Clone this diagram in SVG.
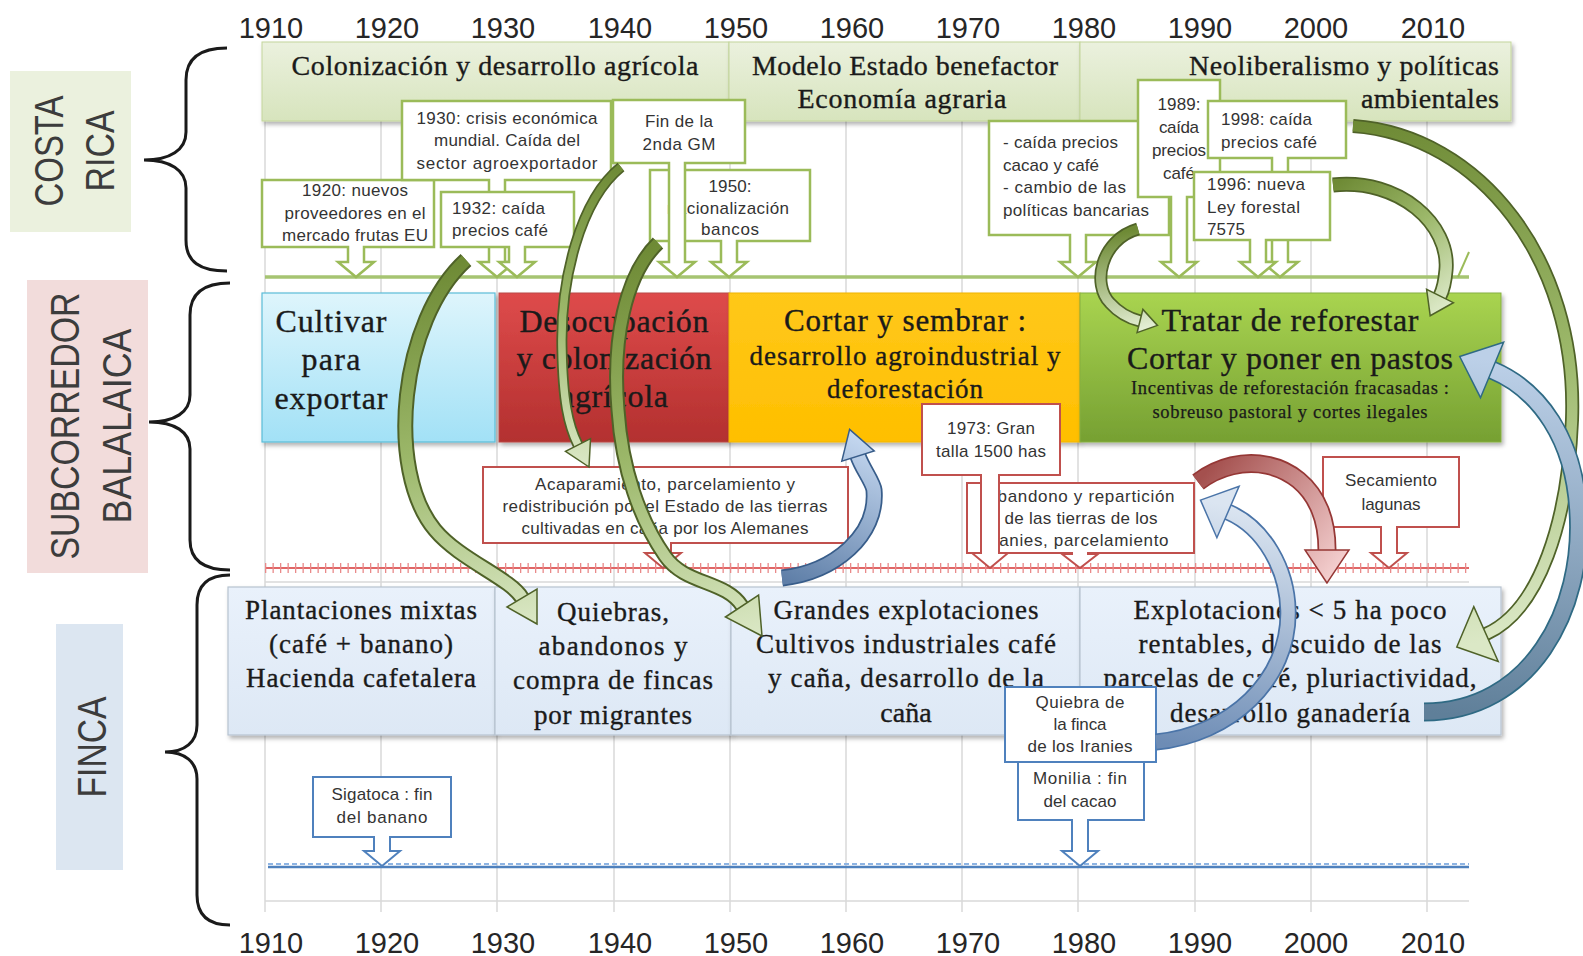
<svg xmlns="http://www.w3.org/2000/svg" width="1583" height="956" viewBox="0 0 1583 956">
<defs>
<style>
.cs{font-family:"Liberation Sans",Arial,sans-serif;font-size:17px;fill:#333}
.sf{font-family:"Liberation Serif","Times New Roman",serif;fill:#1a1a1a;stroke:#1a1a1a;stroke-width:0.35}
.yr{font-family:"Liberation Sans",Arial,sans-serif;font-size:29px;fill:#262626;text-anchor:middle}
.lb{font-family:"Liberation Sans",Arial,sans-serif;font-size:40px;fill:#3c3c3c;text-anchor:middle}
.m{text-anchor:middle}
.e{text-anchor:end}
.cg{fill:#fff;stroke:#9bbb59;stroke-width:2.5}
.cr{fill:#fff;stroke:#c0504d;stroke-width:2}
.cb{fill:#fff;stroke:#4f81bd;stroke-width:2}
.grid{stroke:#d9d9d9;stroke-width:1.5}
.brace{fill:none;stroke:#1a1a1a;stroke-width:3}
.hdr{fill:url(#hdrG);stroke:#c3d69b;stroke-width:1;filter:url(#sh)}
.fin{fill:url(#finG);stroke:#b7c3d0;stroke-width:1.2;filter:url(#sh)}
.band{fill:none;stroke-linecap:butt}
</style>
<filter id="sh" x="-5%" y="-10%" width="115%" height="130%"><feDropShadow dx="2" dy="3" stdDeviation="2" flood-color="#000" flood-opacity="0.3"/></filter>
<linearGradient id="hdrG" x1="0" y1="0" x2="0" y2="1"><stop offset="0" stop-color="#ebf1de"/><stop offset="1" stop-color="#d7e4bd"/></linearGradient>
<linearGradient id="finG" x1="0" y1="0" x2="0" y2="1"><stop offset="0" stop-color="#e9f1fb"/><stop offset="1" stop-color="#dde8f5"/></linearGradient>
<linearGradient id="cyG" x1="0" y1="0" x2="0" y2="1"><stop offset="0" stop-color="#def5fc"/><stop offset="1" stop-color="#a2e1f6"/></linearGradient>
<linearGradient id="rdG" x1="0" y1="0" x2="0" y2="1"><stop offset="0" stop-color="#de4b4b"/><stop offset="1" stop-color="#b3302f"/></linearGradient>
<linearGradient id="ylG" x1="0" y1="0" x2="0" y2="1"><stop offset="0" stop-color="#ffc81a"/><stop offset="1" stop-color="#ffbf00"/></linearGradient>
<linearGradient id="grG" x1="0" y1="0" x2="0" y2="1"><stop offset="0" stop-color="#a9d450"/><stop offset="1" stop-color="#76a032"/></linearGradient>
<linearGradient id="gG1" gradientUnits="userSpaceOnUse" x1="466" y1="260" x2="537" y2="624"><stop offset="0" stop-color="#6e8a35"/><stop offset="0.5" stop-color="#9cb86a"/><stop offset="1" stop-color="#dbe8c6"/></linearGradient>
<linearGradient id="gG2" gradientUnits="userSpaceOnUse" x1="621" y1="167" x2="589" y2="467"><stop offset="0" stop-color="#6e8a35"/><stop offset="0.5" stop-color="#9cb86a"/><stop offset="1" stop-color="#dbe8c6"/></linearGradient>
<linearGradient id="gG3" gradientUnits="userSpaceOnUse" x1="658" y1="243" x2="762" y2="636"><stop offset="0" stop-color="#6e8a35"/><stop offset="0.5" stop-color="#9cb86a"/><stop offset="1" stop-color="#dbe8c6"/></linearGradient>
<linearGradient id="gG4" gradientUnits="userSpaceOnUse" x1="1138" y1="229" x2="1157" y2="325"><stop offset="0" stop-color="#6e8a35"/><stop offset="1" stop-color="#e3eed3"/></linearGradient>
<linearGradient id="gG5" gradientUnits="userSpaceOnUse" x1="1333" y1="185" x2="1430" y2="316"><stop offset="0" stop-color="#6e8a35"/><stop offset="0.5" stop-color="#9cb86a"/><stop offset="1" stop-color="#dbe8c6"/></linearGradient>
<linearGradient id="gG6" gradientUnits="userSpaceOnUse" x1="1353" y1="126" x2="1457" y2="647"><stop offset="0" stop-color="#6e8a35"/><stop offset="0.5" stop-color="#9cb86a"/><stop offset="1" stop-color="#dbe8c6"/></linearGradient>
<linearGradient id="gB1" gradientUnits="userSpaceOnUse" x1="782" y1="578" x2="850" y2="429"><stop offset="0" stop-color="#5f7fa8"/><stop offset="1" stop-color="#c6d9f1"/></linearGradient>
<linearGradient id="gB2" gradientUnits="userSpaceOnUse" x1="1156" y1="742" x2="1200" y2="500"><stop offset="0" stop-color="#6d8cb5"/><stop offset="1" stop-color="#dbe5f1"/></linearGradient>
<linearGradient id="gB3" gradientUnits="userSpaceOnUse" x1="1424" y1="712" x2="1460" y2="357"><stop offset="0" stop-color="#5f7f99"/><stop offset="1" stop-color="#bcd0e8"/></linearGradient>
<linearGradient id="gR1" gradientUnits="userSpaceOnUse" x1="1198" y1="482" x2="1327" y2="583"><stop offset="0" stop-color="#a4504e"/><stop offset="1" stop-color="#f4cfcf"/></linearGradient>
</defs>

<rect width="1583" height="956" fill="#fff"/>

<g id="grid">
<line class="grid" x1="265" y1="121" x2="265" y2="912"/>
<line class="grid" x1="381" y1="121" x2="381" y2="912"/>
<line class="grid" x1="497" y1="121" x2="497" y2="912"/>
<line class="grid" x1="614" y1="121" x2="614" y2="912"/>
<line class="grid" x1="730" y1="121" x2="730" y2="912"/>
<line class="grid" x1="846" y1="121" x2="846" y2="912"/>
<line class="grid" x1="962" y1="121" x2="962" y2="912"/>
<line class="grid" x1="1078" y1="121" x2="1078" y2="912"/>
<line class="grid" x1="1195" y1="121" x2="1195" y2="912"/>
<line class="grid" x1="1311" y1="121" x2="1311" y2="912"/>
<line class="grid" x1="1427" y1="121" x2="1427" y2="912"/>
<line class="grid" x1="265" y1="582" x2="1469" y2="582"/>
<line class="grid" x1="265" y1="901" x2="1469" y2="901"/>
</g>

<g id="timelines">
<line x1="265" y1="277" x2="1469" y2="277" stroke="#a6c472" stroke-width="3.5"/>
<path d="M1469,252 L1458,277" stroke="#9bbb59" stroke-width="2" fill="none"/>
<line x1="265" y1="568" x2="1469" y2="568" stroke="#e06666" stroke-width="2"/>
<line x1="265" y1="568" x2="1469" y2="568" stroke="#e98a8a" stroke-width="10" stroke-dasharray="1.3 6.2"/>
<line x1="268" y1="867" x2="1469" y2="867" stroke="#4f81bd" stroke-width="2.5"/>
<line x1="268" y1="864" x2="1469" y2="864" stroke="#8eb4e3" stroke-width="2" stroke-dasharray="5 3"/>
</g>

<g id="years-top">
<text class="yr" x="271" y="38">1910</text><text class="yr" x="387" y="38">1920</text><text class="yr" x="503" y="38">1930</text><text class="yr" x="620" y="38">1940</text><text class="yr" x="736" y="38">1950</text><text class="yr" x="852" y="38">1960</text><text class="yr" x="968" y="38">1970</text><text class="yr" x="1084" y="38">1980</text><text class="yr" x="1200" y="38">1990</text><text class="yr" x="1316" y="38">2000</text><text class="yr" x="1433" y="38">2010</text>
</g>
<g id="years-bottom">
<text class="yr" x="271" y="953">1910</text><text class="yr" x="387" y="953">1920</text><text class="yr" x="503" y="953">1930</text><text class="yr" x="620" y="953">1940</text><text class="yr" x="736" y="953">1950</text><text class="yr" x="852" y="953">1960</text><text class="yr" x="968" y="953">1970</text><text class="yr" x="1084" y="953">1980</text><text class="yr" x="1200" y="953">1990</text><text class="yr" x="1316" y="953">2000</text><text class="yr" x="1433" y="953">2010</text>
</g>

<g id="label-costa-rica">
<rect x="10" y="71" width="121" height="161" fill="#ebf1de"/>
<text class="lb" transform="rotate(-90 63 151)" x="63" y="151" textLength="111" lengthAdjust="spacingAndGlyphs">COSTA</text>
<text class="lb" transform="rotate(-90 114 151)" x="114" y="151" textLength="81" lengthAdjust="spacingAndGlyphs">RICA</text>
</g>
<g id="label-subcorredor">
<rect x="27" y="280" width="121" height="293" fill="#f2dcdb"/>
<text class="lb" transform="rotate(-90 79 426)" x="79" y="426" textLength="267" lengthAdjust="spacingAndGlyphs">SUBCORREDOR</text>
<text class="lb" transform="rotate(-90 131 426)" x="131" y="426" textLength="195" lengthAdjust="spacingAndGlyphs">BALALAICA</text>
</g>
<g id="label-finca">
<rect x="56" y="624" width="67" height="246" fill="#dce6f1"/>
<text class="lb" transform="rotate(-90 106 747)" x="106" y="747" textLength="101" lengthAdjust="spacingAndGlyphs">FINCA</text>
</g>

<g id="braces">
<path class="brace" d="M227,48 C200,48 186,58 186,80 L186,132 C186,150 170,160 144,160 C170,160 186,170 186,188 L186,240 C186,262 200,271 227,271"/>
<path class="brace" d="M230,283 C204,283 190,293 190,315 L190,395 C190,412 175,422 149,422 C175,422 190,432 190,449 L190,540 C190,561 204,570 230,570"/>
<path class="brace" d="M230,575 C208,575 197,585 197,605 L197,725 C197,742 185,752 165,752 C185,752 197,762 197,779 L197,895 C197,915 208,925 230,925"/>
</g>

<g id="hdr-colonizacion">
<rect class="hdr" x="262" y="42" width="467" height="79"/>
<text class="sf m" x="495" y="75" font-size="28" textLength="407">Colonización y desarrollo agrícola</text>
</g>
<g id="hdr-modelo">
<rect class="hdr" x="729" y="42" width="351" height="79"/>
<text class="sf m" x="905" y="75" font-size="28" textLength="306">Modelo Estado benefactor</text>
<text class="sf m" x="902" y="108" font-size="28" textLength="209">Economía agraria</text>
</g>
<g id="hdr-neoliberalismo">
<rect class="hdr" x="1080" y="42" width="431" height="79"/>
<text class="sf e" x="1499" y="75" font-size="28" textLength="310">Neoliberalismo y políticas</text>
<text class="sf e" x="1499" y="108" font-size="28" textLength="138">ambientales</text>
</g>

<g id="box-cultivar">
<rect x="262" y="293" width="233" height="149" fill="url(#cyG)" stroke="#5bbcd8" stroke-width="1.2" filter="url(#sh)"/>
<text class="sf m" x="331" y="332" font-size="32" textLength="111">Cultivar</text>
<text class="sf m" x="331" y="370" font-size="32" textLength="59">para</text>
<text class="sf m" x="331" y="409" font-size="32" textLength="113">exportar</text>
</g>
<g id="box-desocupacion">
<rect x="499" y="293" width="230" height="149" fill="url(#rdG)" stroke="#b94a48" stroke-width="1" filter="url(#sh)"/>
<text class="sf m" x="614" y="332" font-size="32" textLength="189">Desocupación</text>
<text class="sf m" x="614" y="369" font-size="32" textLength="195">y colonización</text>
<text class="sf m" x="614" y="407" font-size="32" textLength="108">agrícola</text>
</g>
<g id="box-cortar">
<rect x="729" y="293" width="351" height="149" fill="url(#ylG)" stroke="#f0b400" stroke-width="1" filter="url(#sh)"/>
<text class="sf m" x="905" y="331" font-size="31" textLength="242">Cortar y sembrar :</text>
<text class="sf m" x="905" y="365" font-size="27" textLength="311">desarrollo agroindustrial y</text>
<text class="sf m" x="905" y="398" font-size="27" textLength="156">deforestación</text>
</g>
<g id="box-reforestar">
<rect x="1080" y="293" width="421" height="149" fill="url(#grG)" stroke="#86b040" stroke-width="1" filter="url(#sh)"/>
<text class="sf m" x="1290" y="331" font-size="32" textLength="257">Tratar de reforestar</text>
<text class="sf m" x="1290" y="369" font-size="32" textLength="326">Cortar y poner en pastos</text>
<text class="sf m" x="1290" y="394" font-size="18.5" textLength="318" style="stroke-width:0.25">Incentivas de reforestación fracasadas :</text>
<text class="sf m" x="1290" y="418" font-size="18.5" textLength="275" style="stroke-width:0.25">sobreuso pastoral y cortes ilegales</text>
</g>

<g id="finca-plantaciones">
<rect class="fin" x="228" y="587" width="267" height="148"/>
<text class="sf m" x="361" y="619" font-size="27" textLength="232">Plantaciones mixtas</text>
<text class="sf m" x="361" y="653" font-size="27" textLength="184">(café + banano)</text>
<text class="sf m" x="361" y="687" font-size="27" textLength="230">Hacienda cafetalera</text>
</g>
<g id="finca-quiebras">
<rect class="fin" x="495" y="587" width="236" height="148"/>
<text class="sf m" x="613" y="621" font-size="27" textLength="112">Quiebras,</text>
<text class="sf m" x="613" y="655" font-size="27" textLength="149">abandonos y</text>
<text class="sf m" x="613" y="689" font-size="27" textLength="200">compra de fincas</text>
<text class="sf m" x="613" y="724" font-size="27" textLength="158">por migrantes</text>
</g>
<g id="finca-grandes">
<rect class="fin" x="731" y="587" width="349" height="148"/>
<text class="sf m" x="906" y="619" font-size="27" textLength="265">Grandes explotaciones</text>
<text class="sf m" x="906" y="653" font-size="27" textLength="300">Cultivos industriales café</text>
<text class="sf m" x="906" y="687" font-size="27" textLength="276">y caña, desarrollo de la</text>
<text class="sf m" x="906" y="722" font-size="28">caña</text>
</g>
<g id="finca-explotaciones">
<rect class="fin" x="1080" y="587" width="421" height="148"/>
<text class="sf m" x="1290" y="619" font-size="27" textLength="313">Explotaciones &lt; 5 ha poco</text>
<text class="sf m" x="1290" y="653" font-size="27" textLength="303">rentables, descuido de las</text>
<text class="sf m" x="1290" y="687" font-size="27" textLength="373">parcelas de café, pluriactividad,</text>
<text class="sf m" x="1290" y="722" font-size="27" textLength="240">desarrollo ganadería</text>
</g>

<g id="callout-1920">
<path class="cg" d="M262,180 H434 V247 H364 V262 H374 L356,277 L338,262 H348 V247 H262 Z"/>
<text class="cs m" x="355" y="196" textLength="106">1920: nuevos</text>
<text class="cs m" x="355" y="219" textLength="141">proveedores en el</text>
<text class="cs m" x="355" y="241" textLength="146">mercado frutas EU</text>
</g>
<g id="callout-1930">
<path class="cg" d="M402,101 H611 V180 H505 V262 H515 L497,277 L479,262 H489 V180 H402 Z"/>
<text class="cs m" x="507" y="124" textLength="181">1930: crisis económica</text>
<text class="cs m" x="507" y="146" textLength="146">mundial. Caída del</text>
<text class="cs m" x="507" y="169" textLength="181">sector agroexportador</text>
</g>
<g id="callout-1932">
<path class="cg" d="M441,192 H574 V247 H525 V262 H535 L517,277 L499,262 H509 V247 H441 Z"/>
<text class="cs" x="452" y="214" textLength="93">1932: caída</text>
<text class="cs" x="452" y="236" textLength="96">precios café</text>
</g>
<g id="callout-1950">
<path class="cg" d="M650,170 H810 V241 H737 V262 H747 L729,277 L711,262 H721 V241 H650 Z"/>
<text class="cs m" x="730" y="192" textLength="43">1950:</text>
<text class="cs m" x="728" y="214" textLength="122">nacionalización</text>
<text class="cs m" x="730" y="235" textLength="58">bancos</text>
</g>
<g id="callout-fin-gm">
<path class="cg" d="M613,100 H745 V163 H685 V262 H695 L677,277 L659,262 H669 V163 H613 Z"/>
<text class="cs m" x="679" y="127" textLength="68">Fin de la</text>
<text class="cs m" x="679" y="150" textLength="73">2nda GM</text>
</g>
<g id="callout-caida-cacao">
<path class="cg" d="M989,121 H1169 V235 H1086 V262 H1096 L1078,277 L1060,262 H1070 V235 H989 Z"/>
<text class="cs" x="1003" y="148" textLength="115">- caída precios</text>
<text class="cs" x="1003" y="171" textLength="96">cacao y café</text>
<text class="cs" x="1003" y="193" textLength="123">- cambio de las</text>
<text class="cs" x="1003" y="216" textLength="146">políticas bancarias</text>
</g>
<g id="callout-1989">
<path class="cg" d="M1138,80 H1220 V197 H1187 V262 H1197 L1179,277 L1161,262 H1171 V197 H1138 Z"/>
<text class="cs m" x="1179" y="110" textLength="43">1989:</text>
<text class="cs m" x="1179" y="133" textLength="40">caída</text>
<text class="cs m" x="1179" y="156" textLength="54">precios</text>
<text class="cs m" x="1179" y="179" textLength="32">café</text>
</g>
<g id="callout-1998">
<path class="cg" d="M1208,101 H1346 V158 H1288 V262 H1298 L1280,277 L1262,262 H1272 V158 H1208 Z"/>
<text class="cs" x="1221" y="125" textLength="91">1998: caída</text>
<text class="cs" x="1221" y="148" textLength="96">precios café</text>
</g>
<g id="callout-1996">
<path class="cg" d="M1194,172 H1330 V240 H1266 V262 H1276 L1258,277 L1240,262 H1250 V240 H1194 Z"/>
<text class="cs" x="1207" y="190" textLength="98">1996: nueva</text>
<text class="cs" x="1207" y="213" textLength="93">Ley forestal</text>
<text class="cs" x="1207" y="235" textLength="38">7575</text>
</g>

<g id="callout-acaparamiento">
<path class="cr" d="M483,467 H848 V543 H671 V553 H681 L663,568 L645,553 H655 V543 H483 Z"/>
<text class="cs m" x="665" y="490" textLength="260">Acaparamiento, parcelamiento y</text>
<text class="cs m" x="665" y="512" textLength="325">redistribución por el Estado de las tierras</text>
<text class="cs m" x="665" y="534" textLength="287">cultivadas en caña por los Alemanes</text>
</g>
<g id="callout-abandono">
<path class="cr" d="M967,483 H1194 V553 H1088 V554 H1098 L1080,568 L1062,554 H1072 V553 H967 Z"/>
<text class="cs m" x="1080" y="502" textLength="189">Abandono y repartición</text>
<text class="cs m" x="1081" y="524" textLength="153">de las tierras de los</text>
<text class="cs m" x="1078" y="546" textLength="181">Iranies, parcelamiento</text>
</g>
<g id="callout-1973">
<path class="cr" d="M922,404 H1060 V475 H999 V553 H1008 L990,568 L972,553 H981 V475 H922 Z"/>
<text class="cs m" x="991" y="434" textLength="88">1973: Gran</text>
<text class="cs m" x="991" y="457" textLength="110">talla 1500 has</text>
</g>
<g id="callout-secamiento">
<path class="cr" d="M1323,457 H1459 V527 H1397 V553 H1407 L1389,568 L1371,553 H1381 V527 H1323 Z"/>
<text class="cs m" x="1391" y="486" textLength="92">Secamiento</text>
<text class="cs m" x="1391" y="510" textLength="59">lagunas</text>
</g>

<g id="callout-sigatoca">
<path class="cb" d="M313,777 H451 V837 H390 V851 H400 L382,866 L364,851 H374 V837 H313 Z"/>
<text class="cs m" x="382" y="800" textLength="101">Sigatoca : fin</text>
<text class="cs m" x="382" y="823" textLength="91">del banano</text>
</g>
<g id="callout-monilia">
<path class="cb" d="M1018,762 H1144 V820 H1088 V851 H1098 L1080,866 L1062,851 H1072 V820 H1018 Z"/>
<text class="cs m" x="1080" y="784" textLength="94">Monilia : fin</text>
<text class="cs m" x="1080" y="807" textLength="73">del cacao</text>
</g>
<g id="callout-quiebra">
<rect class="cb" x="1005" y="687" width="151" height="75"/>
<text class="cs m" x="1080" y="708" textLength="89">Quiebra de</text>
<text class="cs m" x="1080" y="730" textLength="53">la finca</text>
<text class="cs m" x="1080" y="752" textLength="105">de los Iranies</text>
</g>

<g id="connectors">
<g id="arrow-1932-quiebras">
<path class="band" d="M466,260 C400,320 385,470 435,530 C460,560 510,578 522,598" stroke="#4f6228" stroke-width="16"/>
<path class="band" d="M466,260 C400,320 385,470 435,530 C460,560 510,578 522,598" stroke="url(#gG1)" stroke-width="12"/>
<polygon points="537,624 507,607 537,589" fill="url(#gG1)" stroke="#4f6228" stroke-width="1.5"/>
</g>
<g id="arrow-1930-acaparamiento">
<path class="band" d="M621,167 C580,200 560,280 562,350 C563,400 568,425 578,445" stroke="#4f6228" stroke-width="11"/>
<path class="band" d="M621,167 C580,200 560,280 562,350 C563,400 568,425 578,445" stroke="url(#gG2)" stroke-width="7.5"/>
<polygon points="589,467 565.5,451.3 590.5,438.7" fill="url(#gG2)" stroke="#4f6228" stroke-width="1.5"/>
</g>
<g id="arrow-fingm-grandes">
<path class="band" d="M658,243 C625,275 612,340 618,410 C622,470 640,520 665,556 C685,585 725,580 742,606" stroke="#4f6228" stroke-width="15"/>
<path class="band" d="M658,243 C625,275 612,340 618,410 C622,470 640,520 665,556 C685,585 725,580 742,606" stroke="url(#gG3)" stroke-width="11"/>
<polygon points="762,636 725.4,617 758.6,595" fill="url(#gG3)" stroke="#4f6228" stroke-width="1.5"/>
</g>
<g id="arrow-caida-reforestar">
<path class="band" d="M1138,229 C1100,240 1092,285 1110,303 C1118,312 1128,318 1140,321" stroke="#4f6228" stroke-width="13"/>
<path class="band" d="M1138,229 C1100,240 1092,285 1110,303 C1118,312 1128,318 1140,321" stroke="url(#gG4)" stroke-width="9.5"/>
<polygon points="1157.5,325.4 1137.1,332.6 1142.9,309.4" fill="url(#gG4)" stroke="#4f6228" stroke-width="1.5"/>
</g>
<g id="arrow-ley-reforestar">
<path class="band" d="M1333,185 C1400,178 1450,225 1446,270 C1445,282 1443,290 1440,296" stroke="#4f6228" stroke-width="15"/>
<path class="band" d="M1333,185 C1400,178 1450,225 1446,270 C1445,282 1443,290 1440,296" stroke="url(#gG5)" stroke-width="11.5"/>
<polygon points="1430.2,315.7 1426.6,289.3 1453.4,302.7" fill="url(#gG5)" stroke="#4f6228" stroke-width="1.5"/>
</g>
<g id="arrow-neoliberalismo-explotaciones">
<path class="band" d="M1353,126 C1480,135 1578,260 1572,420 C1568,520 1540,610 1486,634" stroke="#4f6228" stroke-width="14"/>
<path class="band" d="M1353,126 C1480,135 1578,260 1572,420 C1568,520 1540,610 1486,634" stroke="url(#gG6)" stroke-width="10.5"/>
<polygon points="1456.8,647 1473.8,606.6 1498.2,661.4" fill="url(#gG6)" stroke="#4f6228" stroke-width="1.5"/>
</g>
<g id="arrow-acaparamiento-cortar">
<path class="band" d="M782,578 C835,572 878,535 874,490 C873,482 862,468 858,456" stroke="#385d8a" stroke-width="17"/>
<path class="band" d="M782,578 C835,572 878,535 874,490 C873,482 862,468 858,456" stroke="url(#gB1)" stroke-width="13.5"/>
<polygon points="849.6,429.4 874.2,450.9 841.8,461.1" fill="url(#gB1)" stroke="#385d8a" stroke-width="1.5"/>
</g>
<g id="arrow-abandono-explotaciones">
<path class="band" d="M1198,482 C1240,450 1300,460 1320,510 C1325,522 1327,535 1327,550" stroke="#953735" stroke-width="19"/>
<path class="band" d="M1198,482 C1240,450 1300,460 1320,510 C1325,522 1327,535 1327,550" stroke="url(#gR1)" stroke-width="15.5"/>
<polygon points="1327,583 1305,550 1349,550" fill="url(#gR1)" stroke="#953735" stroke-width="1.5"/>
</g>
<g id="arrow-quiebra-abandono">
<path class="band" d="M1156,742 C1230,735 1290,680 1288,610 C1287,570 1265,528 1228,512" stroke="#4a74a8" stroke-width="17"/>
<path class="band" d="M1156,742 C1230,735 1290,680 1288,610 C1287,570 1265,528 1228,512" stroke="url(#gB2)" stroke-width="13.5"/>
<polygon points="1200.5,500.1 1239.1,486.3 1216.9,537.7" fill="url(#gB2)" stroke="#4a74a8" stroke-width="1.5"/>
</g>
<g id="arrow-explotaciones-pastos">
<path class="band" d="M1424,712 C1530,712 1585,610 1578,510 C1574,440 1540,390 1492,370" stroke="#2f6a84" stroke-width="19"/>
<path class="band" d="M1424,712 C1530,712 1585,610 1578,510 C1574,440 1540,390 1492,370" stroke="url(#gB3)" stroke-width="15.5"/>
<polygon points="1459.7,356.5 1503.6,342.3 1480.5,397.7" fill="url(#gB3)" stroke="#2f6a84" stroke-width="1.5"/>
</g>
</g>
</svg>
